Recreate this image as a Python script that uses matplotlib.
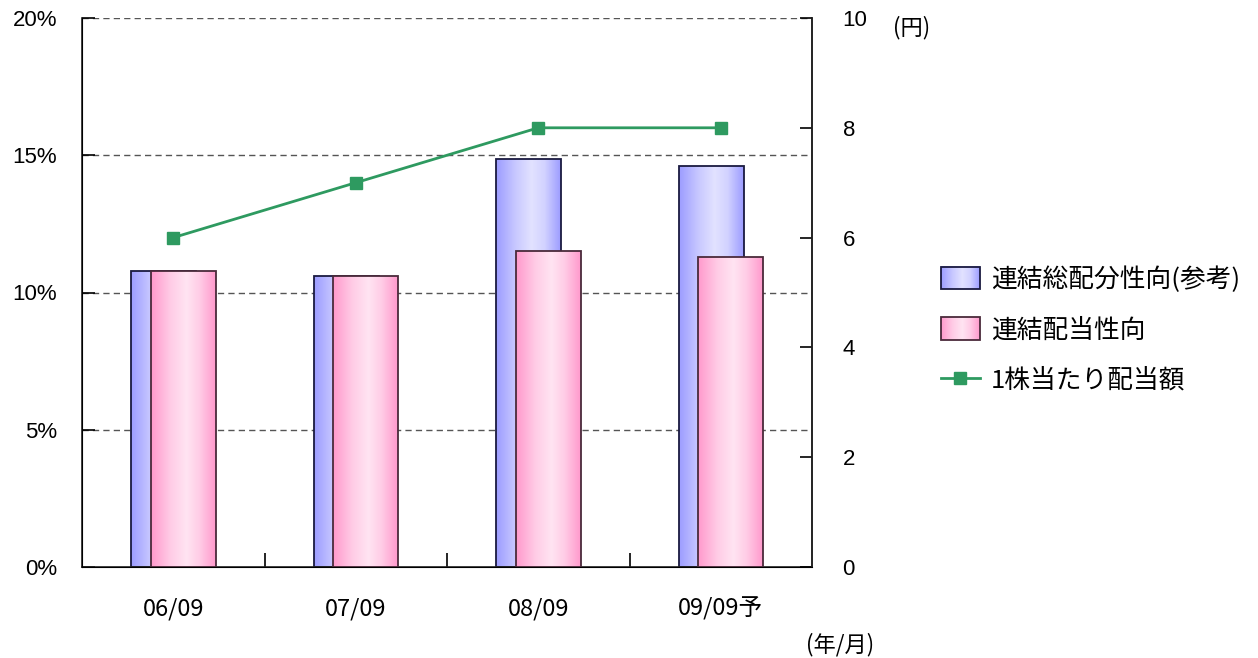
import matplotlib
matplotlib.use("Agg")
import matplotlib.pyplot as plt
import numpy as np
from matplotlib.colors import LinearSegmentedColormap
from matplotlib.lines import Line2D
from matplotlib.patches import Patch
from matplotlib.legend_handler import HandlerPatch

plt.rcParams['font.family'] = ['Noto Sans CJK JP', 'DejaVu Sans']

categories = ["06/09", "07/09", "08/09", "09/09予"]
total_payout = [10.8, 10.6, 14.85, 14.6]     # 連結総配分性向(参考) %
payout = [10.8, 10.6, 11.5, 11.3]            # 連結配当性向 %
dividend = [6, 7, 8, 8]                      # 1株当たり配当額 (円)
left_ticks = [0, 5, 10, 15, 20]
left_labels = ["0%", "5%", "10%", "15%", "20%"]
right_ticks = [0, 2, 4, 6, 8, 10]

blue_cmap = LinearSegmentedColormap.from_list(
    "b", [(0, "#9c9cff"), (0.3, "#c8c8ff"), (0.55, "#e2e2ff"), (0.75, "#d2d2ff"), (1, "#9c9cff")])
pink_cmap = LinearSegmentedColormap.from_list(
    "p", [(0, "#ff99cc"), (0.3, "#ffcce6"), (0.55, "#ffe4f2"), (0.75, "#ffcce6"), (1, "#ff99cc")])

fig = plt.figure(figsize=(12.58, 6.58), dpi=100)
ax = fig.add_axes([82/1258, 1-567/658, (812-82)/1258, (567-18)/658])
ax.set_xlim(-0.5, 3.5)
ax.set_ylim(0, 20)

x = np.arange(len(categories))
w = 0.356
off_b = -0.052
off_p = 0.055

grad = np.linspace(0, 1, 256).reshape(1, -1)

def grad_bars(xs, vals, cmap, edge, z):
    bars = ax.bar(xs, vals, width=w, facecolor="none", edgecolor=edge, linewidth=1.3, zorder=z + 0.5)
    for b in bars:
        x0, y0 = b.get_x(), b.get_y()
        im = ax.imshow(grad, cmap=cmap, aspect="auto",
                       extent=[x0, x0 + b.get_width(), y0, y0 + b.get_height()],
                       zorder=z, interpolation="bilinear")
        im.set_clip_path(b)
    return bars

grad_bars(x + off_b, total_payout, blue_cmap, "#1a1a40", 2)
grad_bars(x + off_p, payout, pink_cmap, "#4a2a3a", 3)
ax.set_xlim(-0.5, 3.5)
ax.set_ylim(0, 20)

for t in left_ticks[1:]:
    ax.axhline(t, color="#555555", linestyle=(0, (4.5, 3)), linewidth=1.0, zorder=1)

ax.set_yticks(left_ticks)
ax.set_yticklabels(left_labels, fontsize=16, family=['Liberation Sans', 'DejaVu Sans'])
ax.tick_params(axis='y', direction='in', length=9, width=1.2, pad=18)
ax.set_xticks(x)
ax.set_xticklabels(categories, fontsize=17)
ax.tick_params(axis='x', length=0, pad=22)
ax.set_xticks([0.5, 1.5, 2.5], minor=True)
ax.tick_params(axis='x', which='minor', direction='in', length=10, width=1.2)
ax.spines['top'].set_visible(False)
for s in ['left', 'bottom', 'right']:
    ax.spines[s].set_linewidth(1.2)
    ax.spines[s].set_color("#222222")

ax2 = ax.twinx()
ax2.set_ylim(0, 10)
ax2.plot(x, dividend, color="#2e9a60", linewidth=2, marker="s", markersize=9, zorder=5)
ax2.set_yticks(right_ticks)
ax2.set_yticklabels([str(t) for t in right_ticks], fontsize=16, family=['Liberation Sans', 'DejaVu Sans'])
ax2.tick_params(axis='y', direction='in', length=9, width=1.2, pad=22)
ax2.spines['top'].set_visible(False)
ax2.spines['right'].set_linewidth(1.2)
ax2.spines['right'].set_color("#222222")

fig.text(893/1258, 1-28/658, "(円)", fontsize=16, ha="left", va="center")
fig.text(874/1258, 1-645/658, "(年/月)", fontsize=16, ha="right", va="center")

class GradHandler(HandlerPatch):
    def __init__(self, cmap, edge):
        super().__init__()
        self.cmap = cmap
        self.edge = edge
    def create_artists(self, legend, orig_handle, xdescent, ydescent, width, height, fontsize, trans):
        from matplotlib.patches import Rectangle
        from matplotlib.image import BboxImage
        from matplotlib.transforms import Bbox, TransformedBbox
        r = Rectangle((-xdescent, -ydescent), width, height, facecolor="none",
                      edgecolor=self.edge, linewidth=1.3, transform=trans)
        bb = TransformedBbox(Bbox.from_bounds(-xdescent, -ydescent, width, height), trans)
        im = BboxImage(bb, cmap=self.cmap, interpolation="bilinear")
        im.set_data(grad)
        return [im, r]

h1 = Patch(label="連結総配分性向(参考)")
h2 = Patch(label="連結配当性向")
h3 = Line2D([], [], color="#2e9a60", linewidth=2, marker="s", markersize=8, label="1株当たり配当額")
leg = fig.legend([h1, h2, h3], [h1.get_label(), h2.get_label(), h3.get_label()],
                 loc="center left", bbox_to_anchor=(918/1258, 1-330/658),
                 frameon=False, fontsize=18.5, handlelength=1.5, handleheight=0.95,
                 labelspacing=0.95, handletextpad=0.45,
                 handler_map={h1: GradHandler(blue_cmap, "#1a1a40"), h2: GradHandler(pink_cmap, "#4a2a3a")})

fig.savefig("out.png", dpi=100)
